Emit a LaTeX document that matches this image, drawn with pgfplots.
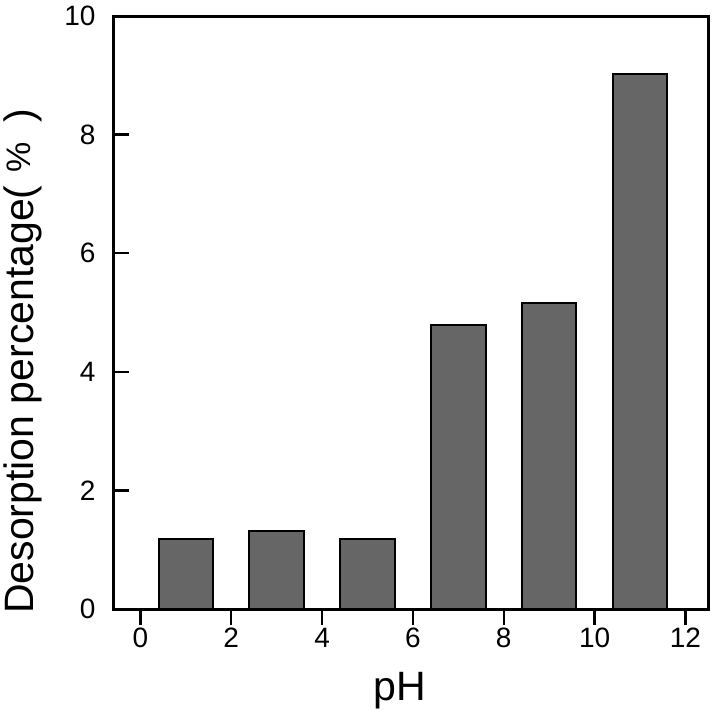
\documentclass[border=0pt]{standalone}
\usepackage{fontspec}
\setmainfont{Liberation Sans}
\usepackage{pgfplots}
\pgfplotsset{compat=1.18}
\definecolor{barfill}{HTML}{666666}
\begin{document}
\begin{tikzpicture}
\begin{axis}[
  scale only axis,
  width=297.5pt, height=296.5pt,
  xmin=-0.6, xmax=12.5,
  ymin=0, ymax=10,
  xtick={0,2,...,12}, ytick={0,2,...,10},
  axis line style={line width=1.5pt},
  tick style={line width=1.2pt, black},
  tick align=inside,
  major tick length=8pt,
  xtick pos=bottom, ytick pos=left,
  /pgf/number format/assume math mode=true,
  tick label style={font=\fontsize{14}{16}\selectfont},
  xticklabel style={yshift=2pt},
  yticklabel style={xshift=-5.3pt},
  xlabel={pH},
  ylabel={Desorption percentage(\hspace{0.3em}\raisebox{1.5pt}{\fontsize{17}{17}\selectfont\%}\hspace{0.5em})},
  label style={font=\fontsize{20.5}{23}\selectfont},
  xlabel style={at={(axis description cs:0.482,-0.137)}, anchor=center},
  ylabel style={at={(axis description cs:-0.151,0.418)}, anchor=center, rotate=0},
  ybar, bar width=1.2,
]
\addplot[fill=barfill, draw=black, line width=1pt] coordinates {
  (1,1.18) (3,1.31) (5,1.18) (7,4.79) (9,5.16) (11,9.03)
};
\coordinate (bbl) at (rel axis cs:-0.19,-0.197);
\coordinate (btr) at (rel axis cs:1.0084,1.027);
\end{axis}
\pgfresetboundingbox
\useasboundingbox (bbl) rectangle (btr);
\end{tikzpicture}
\end{document}
